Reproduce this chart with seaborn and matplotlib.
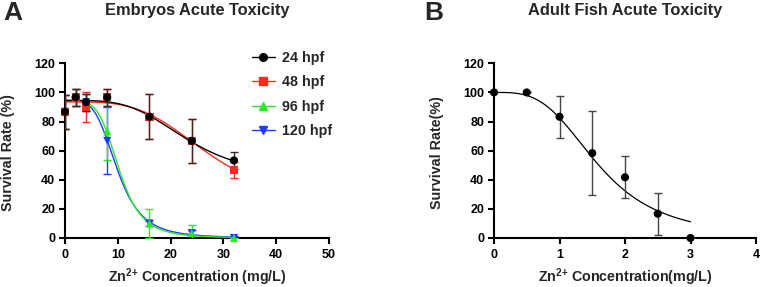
import numpy as np
import pandas as pd
import matplotlib
matplotlib.use("Agg")
import matplotlib.pyplot as plt
from matplotlib.lines import Line2D
import seaborn as sns

# ---------------- data ----------------
conc_a = [0, 2, 4, 8, 16, 24, 32]
series_a = ["24 hpf", "48 hpf", "96 hpf", "120 hpf"]
surv_24 = [86.7, 96.7, 93.3, 96.7, 83.3, 66.7, 53.3]
err_24 = [11.5, 5.8, 5.8, 5.8, 15.3, 15.3, 5.8]
surv_48 = [86.7, 96.7, 90.0, 96.7, 83.3, 66.7, 46.7]
err_48 = [11.5, 5.8, 10.0, 5.8, 15.3, 15.3, 5.8]
surv_96 = [86.7, 96.7, 93.3, 73.3, 10.0, 3.3, 0.0]
err_96 = [11.5, 5.8, 5.8, 20.0, 10.0, 5.8, 0.0]
surv_120 = [86.7, 96.7, 93.3, 66.7, 10.0, 3.3, 0.0]
err_120 = [11.5, 5.8, 5.8, 23.0, 2.0, 2.0, 1.5]

# fitted 4PL parameters (top, bottom, ec50, hill)
fit_24 = (94.5, 40.0, 23.4, 3.75)
fit_48 = (93.5, 20.0, 27.7, 3.7)
fit_96 = (94.0, 0.0, 10.26, 4.78)
fit_120 = (94.5, 0.0, 9.89, 4.2)

conc_b = [0, 0.5, 1, 1.5, 2, 2.5, 3]
surv_b = [100, 100, 83.3, 58.3, 41.7, 16.7, 0]
err_b = [0, 0, 14.4, 28.9, 14.4, 14.4, 0]
fit_b = (100.0, 0.0, 1.60, 3.3)

title_a = "Embryos Acute Toxicity"
title_b = "Adult Fish Acute Toxicity"
xlabel_a = "Zn$^{2{+}}$ Concentration (mg/L)"
xlabel_b = "Zn$^{2{+}}$ Concentration(mg/L)"
ylabel_a = "Survival Rate (%)"
ylabel_b = "Survival Rate(%)"

# ---------------- style ----------------
sns.set_style("ticks")
plt.rcParams["font.family"] = ["Liberation Sans", "DejaVu Sans"]
plt.rcParams["font.weight"] = "bold"
plt.rcParams["mathtext.fontset"] = "custom"
plt.rcParams["mathtext.rm"] = "Liberation Sans:bold"
plt.rcParams["mathtext.bf"] = "Liberation Sans:bold"
plt.rcParams["mathtext.default"] = "bf"

colors = {"24 hpf": "#000000", "48 hpf": "#FF2A1A", "96 hpf": "#2EE62E", "120 hpf": "#1E3CFF"}
ebcolors = {"24 hpf": "#3a2a2a", "48 hpf": "#FF2A1A", "96 hpf": "#2EE62E", "120 hpf": "#1E3CFF"}
markers = {"24 hpf": "o", "48 hpf": "s", "96 hpf": "^", "120 hpf": "v"}

TICK = 9.0
LAB = 10.3
TITLE = 11.8


def logistic(x, p):
    top, bottom, c, h = p
    x = np.asarray(x, dtype=float)
    return bottom + (top - bottom) / (1 + (x / c) ** h)


fig = plt.figure(figsize=(7.61, 2.87), dpi=100)
axA = fig.add_axes([65 / 761, 1 - 238 / 287, (329 - 65) / 761, (238 - 63.3) / 287])
axB = fig.add_axes([494 / 761, 1 - 238 / 287, (756 - 494) / 761, (238 - 63.3) / 287])

for ax in (axA, axB):
    ax.set_ylim(0, 120)
    ax.set_yticks([0, 20, 40, 60, 80, 100, 120])
    for s in ("left", "bottom"):
        ax.spines[s].set_linewidth(1.5)
        ax.spines[s].set_color("black")
    sns.despine(ax=ax)
    ax.tick_params(width=1.5, length=4, labelsize=TICK, pad=3, colors="black")
    ax.tick_params(axis="x", pad=4)

# ---- panel A ----
data_a = {
    "24 hpf": (surv_24, err_24, fit_24),
    "48 hpf": (surv_48, err_48, fit_48),
    "96 hpf": (surv_96, err_96, fit_96),
    "120 hpf": (surv_120, err_120, fit_120),
}
xs = np.linspace(0.0, 32, 300)
order = ["120 hpf", "96 hpf", "48 hpf", "24 hpf"]
for i, name in enumerate(order):
    surv, err, fit = data_a[name]
    curve = pd.DataFrame({"x": xs, "y": logistic(xs, fit)})
    sns.lineplot(data=curve, x="x", y="y", ax=axA, color=colors[name], lw=1.0, zorder=2 + i)
    axA.errorbar(conc_a, surv, yerr=err, fmt="none", ecolor=ebcolors[name], elinewidth=1.0,
                 capsize=3.2, capthick=1.0, zorder=2 + i)
    pts = pd.DataFrame({"x": conc_a, "y": surv})
    sns.scatterplot(data=pts, x="x", y="y", ax=axA, color=colors[name], marker=markers[name],
                    s=34, edgecolor="none", zorder=10 + i, clip_on=False)

axA.set_xlim(0, 50)
axA.set_xticks([0, 10, 20, 30, 40, 50])
axA.set_xlabel(xlabel_a, fontsize=LAB, fontweight="bold")
axA.set_ylabel(ylabel_a, fontsize=LAB, fontweight="bold")
fig.text(197 / 761, 1 - 10 / 287, title_a, ha="center", va="center", fontsize=TITLE, fontweight="bold")

handles = [Line2D([0], [0], color=colors[n], marker=markers[n], markersize=5.5, lw=1.0) for n in series_a]
fig.legend(handles, series_a, loc="upper left", bbox_to_anchor=(246 / 761, 1 - 45 / 287),
           frameon=False, prop={"weight": "bold", "size": LAB}, handlelength=1.6,
           labelspacing=0.74, handletextpad=0.5, borderaxespad=0)

# ---- panel B ----
xb = np.linspace(0.0, 3, 300)
curve_b = pd.DataFrame({"x": xb, "y": logistic(xb, fit_b)})
sns.lineplot(data=curve_b, x="x", y="y", ax=axB, color="black", lw=0.9, zorder=2)
axB.errorbar(conc_b, surv_b, yerr=err_b, fmt="none", ecolor="#444444", elinewidth=1.0,
             capsize=3.2, capthick=1.0, zorder=3)
sns.scatterplot(data=pd.DataFrame({"x": conc_b, "y": surv_b}), x="x", y="y", ax=axB,
                color="black", s=34, edgecolor="none", zorder=10, clip_on=False)
axB.set_xlim(0, 4)
axB.set_xticks([0, 1, 2, 3, 4])
axB.set_xlabel(xlabel_b, fontsize=LAB, fontweight="bold")
axB.set_ylabel(ylabel_b, fontsize=LAB, fontweight="bold")
fig.text(625 / 761, 1 - 10 / 287, title_b, ha="center", va="center", fontsize=TITLE, fontweight="bold")

for ax, w in ((axA, 264), (axB, 262)):
    for lab in ax.get_xticklabels() + ax.get_yticklabels():
        lab.set_fontweight("bold")
    ax.yaxis.set_label_coords(-50 / w, 0.49)
    ax.xaxis.set_label_coords(0.5, -28.5 / 174.7)

fig.text(3 / 761, 1 - 13 / 287, "A", ha="left", va="center", fontsize=19, fontweight="bold")
fig.text(424 / 761, 1 - 13 / 287, "B", ha="left", va="center", fontsize=19, fontweight="bold")

fig.savefig("out.png", dpi=100)
